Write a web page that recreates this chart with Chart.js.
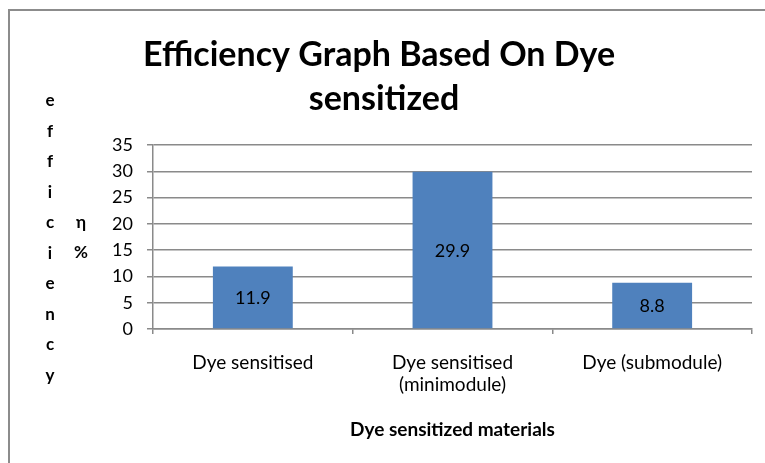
<!DOCTYPE html>
<html>
<head>
<meta charset="utf-8">
<script src="https://cdn.jsdelivr.net/npm/chart.js@4.4.1/dist/chart.umd.min.js"></script>
<style>
  html,body{margin:0;padding:0;background:#fff;}
  #wrap{width:765px;height:463px;position:relative;}
</style>
</head>
<body>
<div id="wrap"><canvas id="chart" width="765" height="463"></canvas></div>
<script>
// values
const categories=['Dye sensitised',['Dye sensitised','(minimodule)'],'Dye (submodule)'];
const efficiency=[11.9,29.9,8.8];
const yMin=0, yMax=35, yStep=5;
const titleLines=['Efficiency Graph Based On Dye','sensitized'];
const yTitleLetters=['e','f','f','i','c','i','e','n','c','y'];
const yUnitLetters=['η','%'];
const xTitle='Dye sensitized materials';

const FONT='Lato, Carlito, Calibri, "Open Sans", sans-serif';
const GRID='#8a8a8a';

const frame={
  id:'frame',
  beforeDraw(chart){
    const {ctx}=chart;
    ctx.save();
    ctx.strokeStyle='#8c8c8c';
    ctx.lineWidth=2;
    ctx.strokeRect(9,10,800,500);
    ctx.restore();
  },
  afterDraw(chart){
    const {ctx,chartArea}=chart;
    ctx.save();
    ctx.fillStyle='#000';
    // main title
    ctx.font='bold 34px '+FONT;
    ctx.textAlign='center';
    ctx.textBaseline='alphabetic';
    ctx.fillText(titleLines[0],379,66);
    ctx.fillText(titleLines[1],384,110);
    // stacked y title
    ctx.font='bold 17px '+FONT;
    ctx.textBaseline='middle';
    yTitleLetters.forEach((t,i)=> ctx.fillText(t,50,101+i*30.5));
    yUnitLetters.forEach((t,i)=> ctx.fillText(t,81,223+i*30));
    // x title
    ctx.font='bold 19px '+FONT;
    ctx.fillText(xTitle,(chartArea.left+chartArea.right)/2,430);
    ctx.restore();
  }
};

const barLabels={
  id:'barLabels',
  afterDatasetsDraw(chart){
    const {ctx}=chart;
    const meta=chart.getDatasetMeta(0);
    ctx.save();
    ctx.font='18px '+FONT;
    ctx.fillStyle='#000';
    ctx.textAlign='center';
    ctx.textBaseline='middle';
    meta.data.forEach((bar,i)=>{
      ctx.fillText(String(efficiency[i]),bar.x,(bar.y+bar.base)/2+1);
    });
    ctx.restore();
  }
};

new Chart(document.getElementById('chart'),{
  type:'bar',
  data:{
    labels:categories,
    datasets:[{
      data:efficiency,
      backgroundColor:'#4f81bd',
      borderWidth:0,
      categoryPercentage:1,
      barPercentage:0.4
    }]
  },
  options:{
    responsive:false,
    animation:false,
    layout:{padding:{top:145,right:13,bottom:54,left:0}},
    plugins:{legend:{display:false},tooltip:{enabled:false},title:{display:false}},
    scales:{
      x:{
        offset:true,
        border:{color:GRID,width:1.5},
        grid:{display:true,drawOnChartArea:false,drawTicks:true,tickLength:5,color:GRID,offset:true,lineWidth:1.5},
        ticks:{color:'#000',font:{family:FONT,size:19,lineHeight:1.15},padding:18,maxRotation:0,autoSkip:false},
        afterFit(s){ s.height=80; }
      },
      y:{
        min:yMin,max:yMax,
        border:{color:GRID,width:1.5},
        grid:{color:GRID,lineWidth:1.5,tickLength:6},
        ticks:{stepSize:yStep,color:'#000',font:{family:FONT,size:18},padding:14},
        afterFit(s){ s.width=153; }
      }
    }
  },
  plugins:[frame,barLabels]
});
</script>
</body>
</html>
